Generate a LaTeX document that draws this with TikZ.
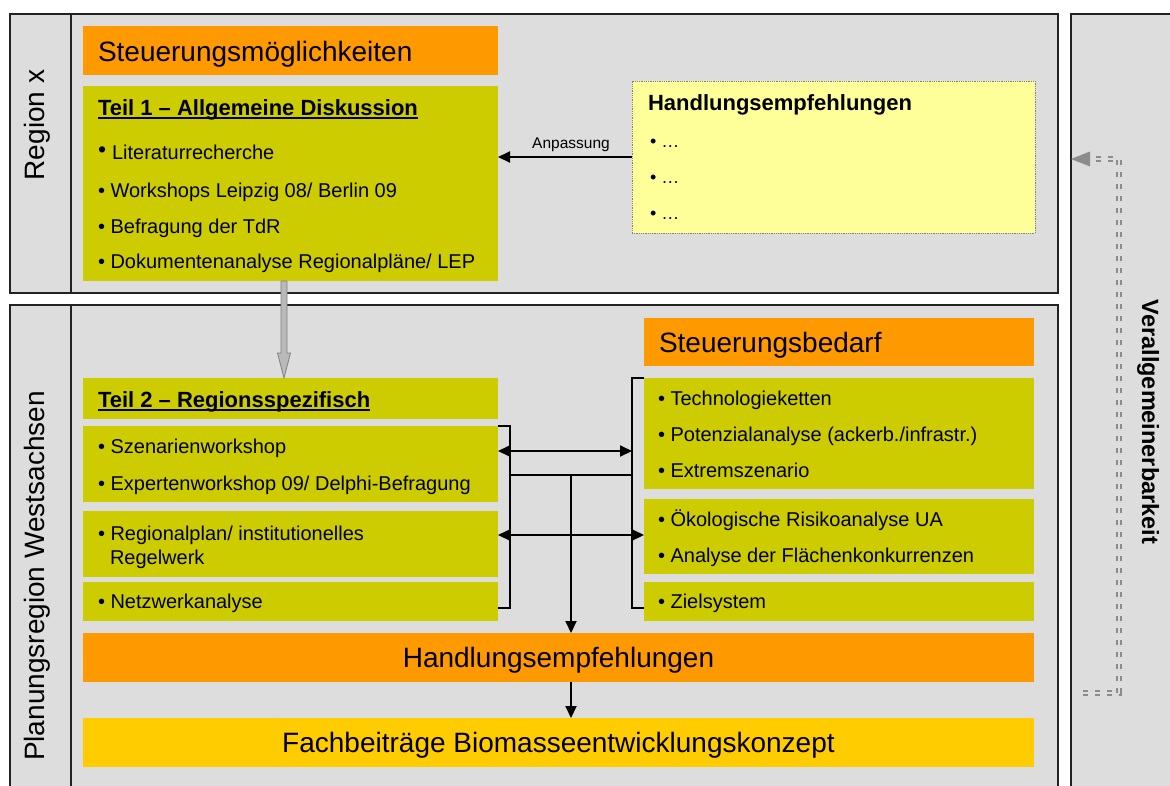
\documentclass[tikz,border=0pt]{standalone}
\usepackage{fontspec}
\setmainfont{Liberation Sans}
\usetikzlibrary{arrows.meta,calc}
\definecolor{panel}{HTML}{DDDDDD}
\definecolor{orng}{HTML}{FF9900}
\definecolor{grn}{HTML}{CCCC00}
\definecolor{ylw}{HTML}{FFFF99}
\definecolor{gold}{HTML}{FFCC00}
\definecolor{framec}{HTML}{222222}
\definecolor{dashc}{HTML}{8C8C8C}
\newsavebox\ulsave
\newcommand\ulbox[1]{\sbox\ulsave{#1}\rlap{\rule[-4pt]{\wd\ulsave}{2pt}}\usebox\ulsave}
\begin{document}
\begin{tikzpicture}[x=1pt,y=-1pt,
  blk/.style={inner sep=0pt, outer sep=0pt, anchor=north west, draw=none},
  panelbox/.style={blk, fill=panel, draw=framec, line width=2pt},
  orangebox/.style={blk, fill=orng},
  greenbox/.style={blk, fill=grn},
  goldbox/.style={blk, fill=gold},
  notebox/.style={blk, fill=ylw, draw=gray, line width=0.8pt, densely dotted},
  txt/.style={inner sep=0pt, outer sep=0pt, anchor=base west, font=\fontsize{20}{24}\selectfont},
  ttl/.style={txt, font=\fontsize{22}{26}\selectfont\bfseries},
  big/.style={inner sep=0pt, outer sep=0pt, font=\fontsize{28}{32}\selectfont},
  conn/.style={draw=black, line width=2pt, -{Triangle[length=12pt,width=11pt]}},
  dconn/.style={draw=black, line width=2pt, {Triangle[length=12pt,width=11pt]}-{Triangle[length=12pt,width=11pt]}},
  brk/.style={draw=black, line width=1.3pt},
  dsh/.style={draw=dashc, line width=1.4pt, double=panel, double distance=2.4pt, dash pattern=on 5pt off 7pt}
]
\useasboundingbox (0,0) rectangle (1170,785);

% panels
\node[panelbox, minimum width=1048pt, minimum height=279pt] (ptop) at (10,14) {};
\node[panelbox, minimum width=1048pt, minimum height=495pt] (pbot) at (10,305) {};
\node[panelbox, minimum width=120pt, minimum height=790pt] (pgen) at (1071,14) {};
\draw[framec, line width=1.5pt] (71,14) -- (71,293);
\draw[framec, line width=1.5pt] (71,305) -- (71,800);

% labels of panels
\node[big, rotate=90, anchor=base] (lrx) at (44,125) {Region x};
\node[big, rotate=90, anchor=base] (lpw) at (44,576) {Planungsregion Westsachsen};
\node[inner sep=0pt, rotate=-90, anchor=base, font=\fontsize{23.5}{26}\selectfont\bfseries] (lvb) at (1142,422) {Verallgemeinerbarkeit};

% top part
\node[orangebox, minimum width=415pt, minimum height=49pt] (smg) at (83,26) {};
\node[big, anchor=base west] (smgt) at (98,61) {Steuerungsmöglichkeiten};
\node[greenbox, minimum width=415pt, minimum height=195pt] (t1) at (83,86) {};
\node[ttl] (t1t) at (98,115) {\ulbox{Teil 1 – Allgemeine Diskussion}};
\node[txt] (t1a) at (98,159) {\raisebox{2pt}{\fontsize{23}{24}\selectfont •}\hspace{6pt}Literaturrecherche};
\node[txt] (t1b) at (98,197) {• Workshops Leipzig 08/ Berlin 09};
\node[txt] (t1c) at (98,233) {• Befragung der TdR};
\node[txt] (t1d) at (98,268) {• Dokumentenanalyse Regionalpläne/ LEP};

\node[notebox, minimum width=403pt, minimum height=152pt] (hb) at (632,81) {};
\node[ttl] (hbt) at (648,110) {Handlungsempfehlungen};
\node[txt, font=\fontsize{18}{22}\selectfont] (hb1) at (650,147) {• …};
\node[txt, font=\fontsize{18}{22}\selectfont] (hb2) at (650,183) {• …};
\node[txt, font=\fontsize{18}{22}\selectfont] (hb3) at (650,219) {• …};

\draw[conn] (hb.west) -- (t1.east |- hb.west);
\node[inner sep=0pt, anchor=base, font=\fontsize{15.5}{18}\selectfont] (anp) at (571,148) {Anpassung};

% bottom part, left column
\node[greenbox, minimum width=415pt, minimum height=41pt] (t2) at (83,378) {};
\node[ttl] (t2t) at (98,407) {\ulbox{Teil 2 – Regionsspezifisch}};
\node[greenbox, minimum width=415pt, minimum height=76pt] (szen) at (83,426) {};
\node[txt] (sz1) at (98,453) {• Szenarienworkshop};
\node[txt] (sz2) at (98,490) {• Expertenworkshop 09/ Delphi-Befragung};
\node[greenbox, minimum width=415pt, minimum height=66pt] (regp) at (83,511) {};
\node[txt] (rp1) at (98,540) {• Regionalplan/ institutionelles};
\node[txt] (rp2) at (110,564) {Regelwerk};
\node[greenbox, minimum width=415pt, minimum height=39pt] (netz) at (83,582) {};
\node[txt] (nz1) at (98,608) {• Netzwerkanalyse};

% bottom part, right column
\node[orangebox, minimum width=390pt, minimum height=48pt] (sbd) at (644,318) {};
\node[big, anchor=base west] (sbdt) at (659,352) {Steuerungsbedarf};
\node[greenbox, minimum width=390pt, minimum height=111pt] (tech) at (644,378) {};
\node[txt] (tc1) at (658,405) {• Technologieketten};
\node[txt] (tc2) at (658,441) {• Potenzialanalyse (ackerb./infrastr.)};
\node[txt] (tc3) at (658,477) {• Extremszenario};
\node[greenbox, minimum width=390pt, minimum height=75pt] (oeko) at (644,499) {};
\node[txt] (ok1) at (658,526) {• Ökologische Risikoanalyse UA};
\node[txt] (ok2) at (658,562) {• Analyse der Flächenkonkurrenzen};
\node[greenbox, minimum width=390pt, minimum height=39pt] (ziel) at (644,582) {};
\node[txt] (zl1) at (658,608) {• Zielsystem};

% bottom bars
\node[orangebox, minimum width=951pt, minimum height=49pt] (he) at (83,633) {};
\node[big, anchor=base] (het) at (558.5,667) {Handlungsempfehlungen};
\node[goldbox, minimum width=951pt, minimum height=49pt] (fb) at (83,718) {};
\node[big, anchor=base] (fbt) at (558.5,752) {Fachbeiträge Biomasseentwicklungskonzept};

% grey block arrow from Teil 1 to Teil 2
\coordinate (ga) at (t1.south -| 284,0);
\coordinate (gb) at (t2.north -| 284,0);
\draw[draw=gray, fill=lightgray!90!gray, line width=0.8pt]
  ($(ga)+(-3,0)$) -- ($(gb)+(-3,-25)$) -- ($(gb)+(-6.5,-25)$) -- (gb)
  -- ($(gb)+(6.5,-25)$) -- ($(gb)+(3,-25)$) -- ($(ga)+(3,0)$) -- cycle;

% brackets
\coordinate (lbb) at (netz.east |- 0,608);
\coordinate (rbb) at (ziel.west |- 0,608);
\draw[brk] (szen.north east) -- ++(12,0) coordinate (lbt) -- (lbt |- lbb) -- (lbb);
\draw[brk] (tech.north west) -- ++(-12,0) coordinate (rbt) -- (rbt |- rbb) -- (rbb);

% connectors between columns
\draw[dconn] (szen.east |- 0,451) -- (rbt |- 0,451);
\draw[dconn] (regp.east |- 0,535) -- (oeko.west |- 0,535);
\coordinate (mid) at (571,475);
\draw[brk] (lbt |- mid) -- (rbt |- mid);
\draw[conn] (mid) -- (mid |- he.north);
\draw[conn] (mid |- he.south) -- (mid |- fb.north);

% generalisation dashed arrow
\coordinate (g0) at (1083,693);
\coordinate (g1) at (1119,693);
\coordinate (g2) at (1119,159);
\coordinate (g3) at (1089,159);
\draw[dsh] (g0) -- (g1) -- (g2) -- (g3);
\fill[dashc] (pgen.west |- g3) -- ($(g3)+(1,-7.5)$) -- ($(g3)+(1,7.5)$) -- cycle;
\end{tikzpicture}
\end{document}
